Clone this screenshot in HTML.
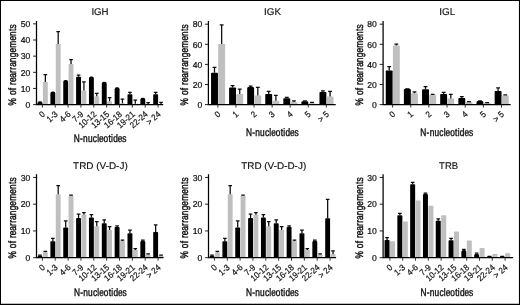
<!DOCTYPE html>
<html><head><meta charset="utf-8"><title>N-nucleotides</title>
<style>
html,body{margin:0;padding:0;background:#fff;}
body{width:520px;height:305px;overflow:hidden;}
svg{display:block;}
text{font-family:"Liberation Sans",sans-serif;fill:#111;stroke:#111;stroke-width:0.22px;text-rendering:geometricPrecision;}
</style></head><body>
<svg width="520" height="305" viewBox="0 0 520 305">
<defs><filter id="soft" x="0" y="0" width="520" height="305" filterUnits="userSpaceOnUse"><feGaussianBlur stdDeviation="0.5"/></filter></defs>
<rect x="0" y="0" width="520" height="305" fill="#fff"/>
<g filter="url(#soft)">
<g>
<text x="100" y="15.1" font-size="9.7" style="stroke-width:0.16px" text-anchor="middle" textLength="17.2" lengthAdjust="spacingAndGlyphs">IGH</text>
<path d="M37.55 104.6V103.37Q37.55 101.37 39.55 101.37H40.45Q42.45 101.37 42.45 103.37V104.6Z" fill="#000"/>
<path d="M42.9 104.6V82.59Q42.9 81.99 43.5 81.99H47.2Q47.8 81.99 47.8 82.59V104.6Z" fill="#bfbfbf"/>
<path d="M45.35 81.99V74.24M43.55 74.54H47.15" stroke="#0a0a0a" stroke-width="1.25" fill="none"/>
<path d="M50.4 104.6V93.52Q50.4 91.52 52.4 91.52H53.3Q55.3 91.52 55.3 93.52V104.6Z" fill="#000"/>
<path d="M55.75 104.6V44.48Q55.75 43.88 56.35 43.88H60.05Q60.65 43.88 60.65 44.48V104.6Z" fill="#bfbfbf"/>
<path d="M58.2 43.88V31.44M56.4 31.74H60" stroke="#0a0a0a" stroke-width="1.25" fill="none"/>
<path d="M63.25 104.6V82.05Q63.25 80.05 65.25 80.05H66.15Q68.15 80.05 68.15 82.05V104.6Z" fill="#000"/>
<path d="M68.6 104.6V64.66Q68.6 64.06 69.2 64.06H72.9Q73.5 64.06 73.5 64.66V104.6Z" fill="#bfbfbf"/>
<path d="M71.05 64.06V59.38M69.25 59.68H72.85" stroke="#0a0a0a" stroke-width="1.25" fill="none"/>
<path d="M76.1 104.6V77.62Q76.1 76.82 76.9 76.82H80.2Q81 76.82 81 77.62V104.6Z" fill="#000"/>
<path d="M78.55 76.82V74.72M76.75 75.02H80.35" stroke="#0a0a0a" stroke-width="1.25" fill="none"/>
<path d="M81.45 104.6V91.15Q81.45 90.55 82.05 90.55H85.75Q86.35 90.55 86.35 91.15V104.6Z" fill="#bfbfbf"/>
<path d="M83.9 90.55V81.51M82.1 81.81H85.7" stroke="#0a0a0a" stroke-width="1.25" fill="none"/>
<path d="M88.95 104.6V78.5Q88.95 76.5 90.95 76.5H91.85Q93.85 76.5 93.85 78.5V104.6Z" fill="#000"/>
<path d="M94.3 104.6V96.96Q94.3 96.36 94.9 96.36H98.6Q99.2 96.36 99.2 96.96V104.6Z" fill="#bfbfbf"/>
<path d="M96.75 96.36V92.97M94.95 93.27H98.55" stroke="#0a0a0a" stroke-width="1.25" fill="none"/>
<path d="M101.8 104.6V83.67Q101.8 81.67 103.8 81.67H104.7Q106.7 81.67 106.7 83.67V104.6Z" fill="#000"/>
<path d="M107.15 104.6V101.97Q107.15 101.37 107.75 101.37H111.45Q112.05 101.37 112.05 101.97V104.6Z" fill="#bfbfbf"/>
<path d="M109.6 101.37V97.33M107.8 97.63H111.4" stroke="#0a0a0a" stroke-width="1.25" fill="none"/>
<path d="M114.65 104.6V89.24Q114.65 87.24 116.65 87.24H117.55Q119.55 87.24 119.55 89.24V104.6Z" fill="#000"/>
<path d="M120 104.6V103.91Q120 103.31 120.6 103.31H124.3Q124.9 103.31 124.9 103.91V104.6Z" fill="#bfbfbf"/>
<path d="M122.45 103.31V98.79M120.65 99.09H124.25" stroke="#0a0a0a" stroke-width="1.25" fill="none"/>
<path d="M127.5 104.6V95.06Q127.5 94.26 128.3 94.26H131.6Q132.4 94.26 132.4 95.06V104.6Z" fill="#000"/>
<path d="M129.95 94.26V92.16M128.15 92.46H131.75" stroke="#0a0a0a" stroke-width="1.25" fill="none"/>
<path d="M132.85 104.6V104.36Q132.85 103.79 133.42 103.79H137.18Q137.75 103.79 137.75 104.36V104.6Z" fill="#bfbfbf"/>
<path d="M135.3 103.79V99.75M133.5 100.05H137.1" stroke="#0a0a0a" stroke-width="1.25" fill="none"/>
<path d="M140.35 104.6V99.66Q140.35 97.66 142.35 97.66H143.25Q145.25 97.66 145.25 99.66V104.6Z" fill="#000"/>
<path d="M145.7 104.6V104.41Q145.7 103.95 146.15 103.95H150.15Q150.6 103.95 150.6 104.41V104.6Z" fill="#bfbfbf"/>
<path d="M148.15 103.95V102.34M146.35 102.64H149.95" stroke="#0a0a0a" stroke-width="1.25" fill="none"/>
<path d="M153.2 104.6V95.06Q153.2 94.26 154 94.26H157.3Q158.1 94.26 158.1 95.06V104.6Z" fill="#000"/>
<path d="M155.65 94.26V92M153.85 92.3H157.45" stroke="#0a0a0a" stroke-width="1.25" fill="none"/>
<path d="M158.55 104.6V104.45Q158.55 104.12 158.89 104.12H163.11Q163.45 104.12 163.45 104.45V104.6Z" fill="#bfbfbf"/>
<path d="M161 104.12V102.02M159.2 102.32H162.8" stroke="#0a0a0a" stroke-width="1.25" fill="none"/>
<path d="M36.5 21V105.15M36 104.6H163.2" stroke="#000" stroke-width="1.25" fill="none"/>
<path d="M33.1 104.6H36.5" stroke="#222" stroke-width="1"/>
<text x="30.3" y="107.85" font-size="8.6" text-anchor="end">0</text>
<path d="M33.1 88.45H36.5" stroke="#222" stroke-width="1"/>
<text x="30.3" y="91.7" font-size="8.6" text-anchor="end">10</text>
<path d="M33.1 72.3H36.5" stroke="#222" stroke-width="1"/>
<text x="30.3" y="75.55" font-size="8.6" text-anchor="end">20</text>
<path d="M33.1 56.15H36.5" stroke="#222" stroke-width="1"/>
<text x="30.3" y="59.4" font-size="8.6" text-anchor="end">30</text>
<path d="M33.1 40H36.5" stroke="#222" stroke-width="1"/>
<text x="30.3" y="43.25" font-size="8.6" text-anchor="end">40</text>
<path d="M33.1 23.85H36.5" stroke="#222" stroke-width="1"/>
<text x="30.3" y="27.1" font-size="8.6" text-anchor="end">50</text>
<path d="M42.4 104.6V107.6" stroke="#222" stroke-width="0.9"/>
<text transform="translate(43.6,112.9) rotate(-41.5) scale(0.92,1)" font-size="8.7" style="stroke-width:0.2px" text-anchor="end" dominant-baseline="central">0</text>
<path d="M55.25 104.6V107.6" stroke="#222" stroke-width="0.9"/>
<text transform="translate(56.45,112.9) rotate(-41.5) scale(0.92,1)" font-size="8.7" style="stroke-width:0.2px" text-anchor="end" dominant-baseline="central">1-3</text>
<path d="M68.1 104.6V107.6" stroke="#222" stroke-width="0.9"/>
<text transform="translate(69.3,112.9) rotate(-41.5) scale(0.92,1)" font-size="8.7" style="stroke-width:0.2px" text-anchor="end" dominant-baseline="central">4-6</text>
<path d="M80.95 104.6V107.6" stroke="#222" stroke-width="0.9"/>
<text transform="translate(82.15,112.9) rotate(-41.5) scale(0.92,1)" font-size="8.7" style="stroke-width:0.2px" text-anchor="end" dominant-baseline="central">7-9</text>
<path d="M93.8 104.6V107.6" stroke="#222" stroke-width="0.9"/>
<text transform="translate(95,112.9) rotate(-41.5) scale(0.92,1)" font-size="8.7" style="stroke-width:0.2px" text-anchor="end" dominant-baseline="central">10-12</text>
<path d="M106.65 104.6V107.6" stroke="#222" stroke-width="0.9"/>
<text transform="translate(107.85,112.9) rotate(-41.5) scale(0.92,1)" font-size="8.7" style="stroke-width:0.2px" text-anchor="end" dominant-baseline="central">13-15</text>
<path d="M119.5 104.6V107.6" stroke="#222" stroke-width="0.9"/>
<text transform="translate(120.7,112.9) rotate(-41.5) scale(0.92,1)" font-size="8.7" style="stroke-width:0.2px" text-anchor="end" dominant-baseline="central">16-18</text>
<path d="M132.35 104.6V107.6" stroke="#222" stroke-width="0.9"/>
<text transform="translate(133.55,112.9) rotate(-41.5) scale(0.92,1)" font-size="8.7" style="stroke-width:0.2px" text-anchor="end" dominant-baseline="central">19-21</text>
<path d="M145.2 104.6V107.6" stroke="#222" stroke-width="0.9"/>
<text transform="translate(146.4,112.9) rotate(-41.5) scale(0.92,1)" font-size="8.7" style="stroke-width:0.2px" text-anchor="end" dominant-baseline="central">22-24</text>
<path d="M158.05 104.6V107.6" stroke="#222" stroke-width="0.9"/>
<text transform="translate(159.25,112.9) rotate(-41.5) scale(0.92,1)" font-size="8.7" style="stroke-width:0.2px" text-anchor="end" dominant-baseline="central">&gt; 24</text>
<text transform="translate(16,65) rotate(-90) scale(0.765,1)" font-size="10.9" x="-52.96 -42.68 -39.38 -32.87 -29.49 -26.04 -22.27 -16.57 -10.37 -6.1 -2.33 3.73 10.15 16.21 22.55 31.9 37.96 44.47 47.89" y="0" style="stroke-width:0.42px">% of rearrangements</text>
<text transform="translate(100.2,142.4) scale(0.765,1)" font-size="10.9" x="-34.56 -26.46 -22.39 -16.05 -9.76 -4.03 -1.62 4.36 10.81 14.28 17.04 23.03 28.96" y="0" style="stroke-width:0.42px">N-nucleotides</text>
</g>
<g>
<text x="272.5" y="15.1" font-size="9.7" style="stroke-width:0.16px" text-anchor="middle" textLength="17" lengthAdjust="spacingAndGlyphs">IGK</text>
<path d="M211.05 104.6V73.53Q211.05 72.73 211.85 72.73H217.15Q217.95 72.73 217.95 73.53V104.6Z" fill="#000"/>
<path d="M214.5 72.73V67.1M212.6 67.4H216.4" stroke="#0a0a0a" stroke-width="1.25" fill="none"/>
<path d="M218.2 104.6V44.6Q218.2 44 218.8 44H224.5Q225.1 44 225.1 44.6V104.6Z" fill="#bfbfbf"/>
<path d="M221.65 44V24.5M219.75 24.8H223.55" stroke="#0a0a0a" stroke-width="1.25" fill="none"/>
<path d="M229.12 104.6V88.3Q229.12 87.5 229.92 87.5H235.22Q236.02 87.5 236.02 88.3V104.6Z" fill="#000"/>
<path d="M232.57 87.5V85.44M230.67 85.74H234.47" stroke="#0a0a0a" stroke-width="1.25" fill="none"/>
<path d="M236.27 104.6V94.54Q236.27 93.94 236.87 93.94H242.57Q243.17 93.94 243.17 94.54V104.6Z" fill="#bfbfbf"/>
<path d="M239.72 93.94V88.72M237.82 89.02H241.62" stroke="#0a0a0a" stroke-width="1.25" fill="none"/>
<path d="M247.19 104.6V88.44Q247.19 87.04 248.59 87.04H252.69Q254.09 87.04 254.09 88.44V104.6Z" fill="#000"/>
<path d="M250.64 87.04V85.93M248.74 86.23H252.54" stroke="#0a0a0a" stroke-width="1.25" fill="none"/>
<path d="M254.34 104.6V96.17Q254.34 95.57 254.94 95.57H260.64Q261.24 95.57 261.24 96.17V104.6Z" fill="#bfbfbf"/>
<path d="M257.79 95.57V87.12M255.89 87.42H259.69" stroke="#0a0a0a" stroke-width="1.25" fill="none"/>
<path d="M265.26 104.6V94.74Q265.26 93.94 266.06 93.94H271.36Q272.16 93.94 272.16 94.74V104.6Z" fill="#000"/>
<path d="M268.71 93.94V91.03M266.81 91.33H270.61" stroke="#0a0a0a" stroke-width="1.25" fill="none"/>
<path d="M272.41 104.6V101.44Q272.41 100.84 273.01 100.84H278.71Q279.31 100.84 279.31 101.44V104.6Z" fill="#bfbfbf"/>
<path d="M275.86 100.84V95.12M273.96 95.42H277.76" stroke="#0a0a0a" stroke-width="1.25" fill="none"/>
<path d="M283.33 104.6V99.01Q283.33 98.21 284.13 98.21H289.43Q290.23 98.21 290.23 99.01V104.6Z" fill="#000"/>
<path d="M286.78 98.21V97M284.88 97.3H288.68" stroke="#0a0a0a" stroke-width="1.25" fill="none"/>
<path d="M290.48 104.6V102.66Q290.48 102.06 291.08 102.06H296.78Q297.38 102.06 297.38 102.66V104.6Z" fill="#bfbfbf"/>
<path d="M293.93 102.06V100.55M292.03 100.85H295.83" stroke="#0a0a0a" stroke-width="1.25" fill="none"/>
<path d="M301.4 104.6V102.55Q301.4 101.15 302.8 101.15H306.9Q308.3 101.15 308.3 102.55V104.6Z" fill="#000"/>
<path d="M304.85 101.15V100.55M302.95 100.85H306.75" stroke="#0a0a0a" stroke-width="1.25" fill="none"/>
<path d="M308.55 104.6V103.78Q308.55 103.18 309.15 103.18H314.85Q315.45 103.18 315.45 103.78V104.6Z" fill="#bfbfbf"/>
<path d="M312 103.18V102.07M310.1 102.37H313.9" stroke="#0a0a0a" stroke-width="1.25" fill="none"/>
<path d="M319.47 104.6V92.81Q319.47 92.01 320.27 92.01H325.57Q326.37 92.01 326.37 92.81V104.6Z" fill="#000"/>
<path d="M322.92 92.01V90.61M321.02 90.91H324.82" stroke="#0a0a0a" stroke-width="1.25" fill="none"/>
<path d="M326.62 104.6V96.98Q326.62 96.38 327.22 96.38H332.92Q333.52 96.38 333.52 96.98V104.6Z" fill="#bfbfbf"/>
<path d="M330.07 96.38V91.15M328.17 91.45H331.97" stroke="#0a0a0a" stroke-width="1.25" fill="none"/>
<path d="M208.4 21V105.15M207.9 104.6H335.7" stroke="#000" stroke-width="1.25" fill="none"/>
<path d="M205 104.6H208.4" stroke="#222" stroke-width="1"/>
<text x="202.2" y="107.85" font-size="8.6" text-anchor="end">0</text>
<path d="M205 84.5H208.4" stroke="#222" stroke-width="1"/>
<text x="202.2" y="87.75" font-size="8.6" text-anchor="end">20</text>
<path d="M205 64.4H208.4" stroke="#222" stroke-width="1"/>
<text x="202.2" y="67.65" font-size="8.6" text-anchor="end">40</text>
<path d="M205 44.3H208.4" stroke="#222" stroke-width="1"/>
<text x="202.2" y="47.55" font-size="8.6" text-anchor="end">60</text>
<path d="M205 24.2H208.4" stroke="#222" stroke-width="1"/>
<text x="202.2" y="27.45" font-size="8.6" text-anchor="end">80</text>
<path d="M217.9 104.6V107.6" stroke="#222" stroke-width="0.9"/>
<text transform="translate(219.1,112.9) rotate(-41.5) scale(0.92,1)" font-size="8.7" style="stroke-width:0.2px" text-anchor="end" dominant-baseline="central">0</text>
<path d="M235.97 104.6V107.6" stroke="#222" stroke-width="0.9"/>
<text transform="translate(237.17,112.9) rotate(-41.5) scale(0.92,1)" font-size="8.7" style="stroke-width:0.2px" text-anchor="end" dominant-baseline="central">1</text>
<path d="M254.04 104.6V107.6" stroke="#222" stroke-width="0.9"/>
<text transform="translate(255.24,112.9) rotate(-41.5) scale(0.92,1)" font-size="8.7" style="stroke-width:0.2px" text-anchor="end" dominant-baseline="central">2</text>
<path d="M272.11 104.6V107.6" stroke="#222" stroke-width="0.9"/>
<text transform="translate(273.31,112.9) rotate(-41.5) scale(0.92,1)" font-size="8.7" style="stroke-width:0.2px" text-anchor="end" dominant-baseline="central">3</text>
<path d="M290.18 104.6V107.6" stroke="#222" stroke-width="0.9"/>
<text transform="translate(291.38,112.9) rotate(-41.5) scale(0.92,1)" font-size="8.7" style="stroke-width:0.2px" text-anchor="end" dominant-baseline="central">4</text>
<path d="M308.25 104.6V107.6" stroke="#222" stroke-width="0.9"/>
<text transform="translate(309.45,112.9) rotate(-41.5) scale(0.92,1)" font-size="8.7" style="stroke-width:0.2px" text-anchor="end" dominant-baseline="central">5</text>
<path d="M326.32 104.6V107.6" stroke="#222" stroke-width="0.9"/>
<text transform="translate(327.52,112.9) rotate(-41.5) scale(0.92,1)" font-size="8.7" style="stroke-width:0.2px" text-anchor="end" dominant-baseline="central">&gt; 5</text>
<text transform="translate(187.9,65) rotate(-90) scale(0.765,1)" font-size="10.9" x="-52.96 -42.68 -39.38 -32.87 -29.49 -26.04 -22.27 -16.57 -10.37 -6.1 -2.33 3.73 10.15 16.21 22.55 31.9 37.96 44.47 47.89" y="0" style="stroke-width:0.42px">% of rearrangements</text>
<text transform="translate(272.4,135.5) scale(0.765,1)" font-size="10.9" x="-34.56 -26.46 -22.39 -16.05 -9.76 -4.03 -1.62 4.36 10.81 14.28 17.04 23.03 28.96" y="0" style="stroke-width:0.42px">N-nucleotides</text>
</g>
<g>
<text x="447.3" y="15.1" font-size="9.7" style="stroke-width:0.16px" text-anchor="middle" textLength="16" lengthAdjust="spacingAndGlyphs">IGL</text>
<path d="M385.75 104.6V71.29Q385.75 70.49 386.55 70.49H391.85Q392.65 70.49 392.65 71.29V104.6Z" fill="#000"/>
<path d="M389.2 70.49V66.37M387.3 66.67H391.1" stroke="#0a0a0a" stroke-width="1.25" fill="none"/>
<path d="M392.9 104.6V46.12Q392.9 45.52 393.5 45.52H399.2Q399.8 45.52 399.8 46.12V104.6Z" fill="#bfbfbf"/>
<path d="M396.35 45.52V43.72M394.45 44.02H398.25" stroke="#0a0a0a" stroke-width="1.25" fill="none"/>
<path d="M403.9 104.6V90.27Q403.9 88.87 405.3 88.87H409.4Q410.8 88.87 410.8 90.27V104.6Z" fill="#000"/>
<path d="M407.35 88.87V88.46M405.45 88.76H409.25" stroke="#0a0a0a" stroke-width="1.25" fill="none"/>
<path d="M411.05 104.6V93.83Q411.05 93.23 411.65 93.23H417.35Q417.95 93.23 417.95 93.83V104.6Z" fill="#bfbfbf"/>
<path d="M414.5 93.23V91.62M412.6 91.92H416.4" stroke="#0a0a0a" stroke-width="1.25" fill="none"/>
<path d="M422.05 104.6V90.17Q422.05 89.37 422.85 89.37H428.15Q428.95 89.37 428.95 90.17V104.6Z" fill="#000"/>
<path d="M425.5 89.37V86.36M423.6 86.66H427.4" stroke="#0a0a0a" stroke-width="1.25" fill="none"/>
<path d="M429.2 104.6V95.66Q429.2 95.06 429.8 95.06H435.5Q436.1 95.06 436.1 95.66V104.6Z" fill="#bfbfbf"/>
<path d="M432.65 95.06V93.95M430.75 94.25H434.55" stroke="#0a0a0a" stroke-width="1.25" fill="none"/>
<path d="M440.2 104.6V94.74Q440.2 93.94 441 93.94H446.3Q447.1 93.94 447.1 94.74V104.6Z" fill="#000"/>
<path d="M443.65 93.94V92.13M441.75 92.43H445.55" stroke="#0a0a0a" stroke-width="1.25" fill="none"/>
<path d="M447.35 104.6V99.11Q447.35 98.51 447.95 98.51H453.65Q454.25 98.51 454.25 99.11V104.6Z" fill="#bfbfbf"/>
<path d="M450.8 98.51V93.99M448.9 94.29H452.7" stroke="#0a0a0a" stroke-width="1.25" fill="none"/>
<path d="M458.35 104.6V98.9Q458.35 98.1 459.15 98.1H464.45Q465.25 98.1 465.25 98.9V104.6Z" fill="#000"/>
<path d="M461.8 98.1V96.29M459.9 96.59H463.7" stroke="#0a0a0a" stroke-width="1.25" fill="none"/>
<path d="M465.5 104.6V102.56Q465.5 101.96 466.1 101.96H471.8Q472.4 101.96 472.4 102.56V104.6Z" fill="#bfbfbf"/>
<path d="M468.95 101.96V101.36M467.05 101.66H470.85" stroke="#0a0a0a" stroke-width="1.25" fill="none"/>
<path d="M476.5 104.6V102.45Q476.5 101.05 477.9 101.05H482Q483.4 101.05 483.4 102.45V104.6Z" fill="#000"/>
<path d="M479.95 101.05V100.54M478.05 100.84H481.85" stroke="#0a0a0a" stroke-width="1.25" fill="none"/>
<path d="M483.65 104.6V103.47Q483.65 102.87 484.25 102.87H489.95Q490.55 102.87 490.55 103.47V104.6Z" fill="#bfbfbf"/>
<path d="M487.1 102.87V102.37M485.2 102.67H489" stroke="#0a0a0a" stroke-width="1.25" fill="none"/>
<path d="M494.65 104.6V91.9Q494.65 91.1 495.45 91.1H500.75Q501.55 91.1 501.55 91.9V104.6Z" fill="#000"/>
<path d="M498.1 91.1V87.68M496.2 87.98H500" stroke="#0a0a0a" stroke-width="1.25" fill="none"/>
<path d="M501.8 104.6V96.06Q501.8 95.46 502.4 95.46H508.1Q508.7 95.46 508.7 96.06V104.6Z" fill="#bfbfbf"/>
<path d="M505.25 95.46V94.46M503.35 94.76H507.15" stroke="#0a0a0a" stroke-width="1.25" fill="none"/>
<path d="M383.1 21V105.15M382.6 104.6H510.7" stroke="#000" stroke-width="1.25" fill="none"/>
<path d="M379.7 104.6H383.1" stroke="#222" stroke-width="1"/>
<text x="376.9" y="107.85" font-size="8.6" text-anchor="end">0</text>
<path d="M379.7 84.5H383.1" stroke="#222" stroke-width="1"/>
<text x="376.9" y="87.75" font-size="8.6" text-anchor="end">20</text>
<path d="M379.7 64.4H383.1" stroke="#222" stroke-width="1"/>
<text x="376.9" y="67.65" font-size="8.6" text-anchor="end">40</text>
<path d="M379.7 44.3H383.1" stroke="#222" stroke-width="1"/>
<text x="376.9" y="47.55" font-size="8.6" text-anchor="end">60</text>
<path d="M379.7 24.2H383.1" stroke="#222" stroke-width="1"/>
<text x="376.9" y="27.45" font-size="8.6" text-anchor="end">80</text>
<path d="M392.6 104.6V107.6" stroke="#222" stroke-width="0.9"/>
<text transform="translate(393.8,112.9) rotate(-41.5) scale(0.92,1)" font-size="8.7" style="stroke-width:0.2px" text-anchor="end" dominant-baseline="central">0</text>
<path d="M410.75 104.6V107.6" stroke="#222" stroke-width="0.9"/>
<text transform="translate(411.95,112.9) rotate(-41.5) scale(0.92,1)" font-size="8.7" style="stroke-width:0.2px" text-anchor="end" dominant-baseline="central">1</text>
<path d="M428.9 104.6V107.6" stroke="#222" stroke-width="0.9"/>
<text transform="translate(430.1,112.9) rotate(-41.5) scale(0.92,1)" font-size="8.7" style="stroke-width:0.2px" text-anchor="end" dominant-baseline="central">2</text>
<path d="M447.05 104.6V107.6" stroke="#222" stroke-width="0.9"/>
<text transform="translate(448.25,112.9) rotate(-41.5) scale(0.92,1)" font-size="8.7" style="stroke-width:0.2px" text-anchor="end" dominant-baseline="central">3</text>
<path d="M465.2 104.6V107.6" stroke="#222" stroke-width="0.9"/>
<text transform="translate(466.4,112.9) rotate(-41.5) scale(0.92,1)" font-size="8.7" style="stroke-width:0.2px" text-anchor="end" dominant-baseline="central">4</text>
<path d="M483.35 104.6V107.6" stroke="#222" stroke-width="0.9"/>
<text transform="translate(484.55,112.9) rotate(-41.5) scale(0.92,1)" font-size="8.7" style="stroke-width:0.2px" text-anchor="end" dominant-baseline="central">5</text>
<path d="M501.5 104.6V107.6" stroke="#222" stroke-width="0.9"/>
<text transform="translate(502.7,112.9) rotate(-41.5) scale(0.92,1)" font-size="8.7" style="stroke-width:0.2px" text-anchor="end" dominant-baseline="central">&gt; 5</text>
<text transform="translate(362.6,65) rotate(-90) scale(0.765,1)" font-size="10.9" x="-52.96 -42.68 -39.38 -32.87 -29.49 -26.04 -22.27 -16.57 -10.37 -6.1 -2.33 3.73 10.15 16.21 22.55 31.9 37.96 44.47 47.89" y="0" style="stroke-width:0.42px">% of rearrangements</text>
<text transform="translate(446.8,135.5) scale(0.765,1)" font-size="10.9" x="-34.56 -26.46 -22.39 -16.05 -9.76 -4.03 -1.62 4.36 10.81 14.28 17.04 23.03 28.96" y="0" style="stroke-width:0.42px">N-nucleotides</text>
</g>
<g>
<text x="100.4" y="168.8" font-size="9.7" style="stroke-width:0.16px" text-anchor="middle" textLength="54.6" lengthAdjust="spacingAndGlyphs">TRD (V-D-J)</text>
<path d="M37.55 257.7V257.06Q37.55 255.56 39.05 255.56H40.95Q42.45 255.56 42.45 257.06V257.7Z" fill="#000"/>
<path d="M40 255.56V254.76M38.2 255.06H41.8" stroke="#0a0a0a" stroke-width="1.25" fill="none"/>
<path d="M42.9 257.7V252.95Q42.9 252.35 43.5 252.35H47.2Q47.8 252.35 47.8 252.95V257.7Z" fill="#bfbfbf"/>
<path d="M45.35 252.35V251.01M43.55 251.31H47.15" stroke="#0a0a0a" stroke-width="1.25" fill="none"/>
<path d="M50.4 257.7V242.05Q50.4 241.25 51.2 241.25H54.5Q55.3 241.25 55.3 242.05V257.7Z" fill="#000"/>
<path d="M52.85 241.25V238.04M51.05 238.34H54.65" stroke="#0a0a0a" stroke-width="1.25" fill="none"/>
<path d="M55.75 257.7V194.9Q55.75 194.3 56.35 194.3H60.05Q60.65 194.3 60.65 194.9V257.7Z" fill="#bfbfbf"/>
<path d="M58.2 194.3V185.21M56.4 185.51H60" stroke="#0a0a0a" stroke-width="1.25" fill="none"/>
<path d="M63.25 257.7V228.27Q63.25 227.47 64.05 227.47H67.35Q68.15 227.47 68.15 228.27V257.7Z" fill="#000"/>
<path d="M65.7 227.47V220.52M63.9 220.82H67.5" stroke="#0a0a0a" stroke-width="1.25" fill="none"/>
<path d="M68.6 257.7V196.24Q68.6 195.64 69.2 195.64H72.9Q73.5 195.64 73.5 196.24V257.7Z" fill="#bfbfbf"/>
<path d="M71.05 195.64V194.84M69.25 195.14H72.85" stroke="#0a0a0a" stroke-width="1.25" fill="none"/>
<path d="M76.1 257.7V218.91Q76.1 218.11 76.9 218.11H80.2Q81 218.11 81 218.91V257.7Z" fill="#000"/>
<path d="M78.55 218.11V213.83M76.75 214.13H80.35" stroke="#0a0a0a" stroke-width="1.25" fill="none"/>
<path d="M81.45 257.7V215.37Q81.45 214.77 82.05 214.77H85.75Q86.35 214.77 86.35 215.37V257.7Z" fill="#bfbfbf"/>
<path d="M83.9 214.77V212.36M82.1 212.66H85.7" stroke="#0a0a0a" stroke-width="1.25" fill="none"/>
<path d="M88.95 257.7V218.38Q88.95 217.57 89.75 217.57H93.05Q93.85 217.57 93.85 218.38V257.7Z" fill="#000"/>
<path d="M91.4 217.57V214.36M89.6 214.66H93.2" stroke="#0a0a0a" stroke-width="1.25" fill="none"/>
<path d="M94.3 257.7V226.87Q94.3 226.27 94.9 226.27H98.6Q99.2 226.27 99.2 226.87V257.7Z" fill="#bfbfbf"/>
<path d="M96.75 226.27V221.32M94.95 221.62H98.55" stroke="#0a0a0a" stroke-width="1.25" fill="none"/>
<path d="M101.8 257.7V223.99Q101.8 223.19 102.6 223.19H105.9Q106.7 223.19 106.7 223.99V257.7Z" fill="#000"/>
<path d="M104.25 223.19V219.45M102.45 219.75H106.05" stroke="#0a0a0a" stroke-width="1.25" fill="none"/>
<path d="M107.15 257.7V230.61Q107.15 230.01 107.75 230.01H111.45Q112.05 230.01 112.05 230.61V257.7Z" fill="#bfbfbf"/>
<path d="M109.6 230.01V226.27M107.8 226.57H111.4" stroke="#0a0a0a" stroke-width="1.25" fill="none"/>
<path d="M114.65 257.7V227.74Q114.65 226.94 115.45 226.94H118.75Q119.55 226.94 119.55 227.74V257.7Z" fill="#000"/>
<path d="M117.1 226.94V225.6M115.3 225.9H118.9" stroke="#0a0a0a" stroke-width="1.25" fill="none"/>
<path d="M120 257.7V241.58Q120 240.98 120.6 240.98H124.3Q124.9 240.98 124.9 241.58V257.7Z" fill="#bfbfbf"/>
<path d="M122.45 240.98V239.78M120.65 240.08H124.25" stroke="#0a0a0a" stroke-width="1.25" fill="none"/>
<path d="M127.5 257.7V234.16Q127.5 233.36 128.3 233.36H131.6Q132.4 233.36 132.4 234.16V257.7Z" fill="#000"/>
<path d="M129.95 233.36V229.88M128.15 230.18H131.75" stroke="#0a0a0a" stroke-width="1.25" fill="none"/>
<path d="M132.85 257.7V250.54Q132.85 249.94 133.45 249.94H137.15Q137.75 249.94 137.75 250.54V257.7Z" fill="#bfbfbf"/>
<path d="M135.3 249.94V248.34M133.5 248.64H137.1" stroke="#0a0a0a" stroke-width="1.25" fill="none"/>
<path d="M140.35 257.7V242.58Q140.35 240.58 142.35 240.58H143.25Q145.25 240.58 145.25 242.58V257.7Z" fill="#000"/>
<path d="M142.8 240.58V239.78M141 240.08H144.6" stroke="#0a0a0a" stroke-width="1.25" fill="none"/>
<path d="M145.7 257.7V255.36Q145.7 254.76 146.3 254.76H150Q150.6 254.76 150.6 255.36V257.7Z" fill="#bfbfbf"/>
<path d="M148.15 254.76V253.69M146.35 253.99H149.95" stroke="#0a0a0a" stroke-width="1.25" fill="none"/>
<path d="M153.2 257.7V232.82Q153.2 232.02 154 232.02H157.3Q158.1 232.02 158.1 232.82V257.7Z" fill="#000"/>
<path d="M155.65 232.02V224.53M153.85 224.83H157.45" stroke="#0a0a0a" stroke-width="1.25" fill="none"/>
<path d="M158.55 257.7V256.16Q158.55 255.56 159.15 255.56H162.85Q163.45 255.56 163.45 256.16V257.7Z" fill="#bfbfbf"/>
<path d="M161 255.56V254.76M159.2 255.06H162.8" stroke="#0a0a0a" stroke-width="1.25" fill="none"/>
<path d="M36.5 174.3V258.25M36 257.7H163.5" stroke="#000" stroke-width="1.25" fill="none"/>
<path d="M33.1 257.7H36.5" stroke="#222" stroke-width="1"/>
<text x="30.3" y="260.95" font-size="8.6" text-anchor="end">0</text>
<path d="M33.1 230.95H36.5" stroke="#222" stroke-width="1"/>
<text x="30.3" y="234.2" font-size="8.6" text-anchor="end">10</text>
<path d="M33.1 204.2H36.5" stroke="#222" stroke-width="1"/>
<text x="30.3" y="207.45" font-size="8.6" text-anchor="end">20</text>
<path d="M33.1 177.45H36.5" stroke="#222" stroke-width="1"/>
<text x="30.3" y="180.7" font-size="8.6" text-anchor="end">30</text>
<path d="M42.4 257.7V260.7" stroke="#222" stroke-width="0.9"/>
<text transform="translate(43.6,266) rotate(-41.5) scale(0.92,1)" font-size="8.7" style="stroke-width:0.2px" text-anchor="end" dominant-baseline="central">0</text>
<path d="M55.25 257.7V260.7" stroke="#222" stroke-width="0.9"/>
<text transform="translate(56.45,266) rotate(-41.5) scale(0.92,1)" font-size="8.7" style="stroke-width:0.2px" text-anchor="end" dominant-baseline="central">1-3</text>
<path d="M68.1 257.7V260.7" stroke="#222" stroke-width="0.9"/>
<text transform="translate(69.3,266) rotate(-41.5) scale(0.92,1)" font-size="8.7" style="stroke-width:0.2px" text-anchor="end" dominant-baseline="central">4-6</text>
<path d="M80.95 257.7V260.7" stroke="#222" stroke-width="0.9"/>
<text transform="translate(82.15,266) rotate(-41.5) scale(0.92,1)" font-size="8.7" style="stroke-width:0.2px" text-anchor="end" dominant-baseline="central">7-9</text>
<path d="M93.8 257.7V260.7" stroke="#222" stroke-width="0.9"/>
<text transform="translate(95,266) rotate(-41.5) scale(0.92,1)" font-size="8.7" style="stroke-width:0.2px" text-anchor="end" dominant-baseline="central">10-12</text>
<path d="M106.65 257.7V260.7" stroke="#222" stroke-width="0.9"/>
<text transform="translate(107.85,266) rotate(-41.5) scale(0.92,1)" font-size="8.7" style="stroke-width:0.2px" text-anchor="end" dominant-baseline="central">13-15</text>
<path d="M119.5 257.7V260.7" stroke="#222" stroke-width="0.9"/>
<text transform="translate(120.7,266) rotate(-41.5) scale(0.92,1)" font-size="8.7" style="stroke-width:0.2px" text-anchor="end" dominant-baseline="central">16-18</text>
<path d="M132.35 257.7V260.7" stroke="#222" stroke-width="0.9"/>
<text transform="translate(133.55,266) rotate(-41.5) scale(0.92,1)" font-size="8.7" style="stroke-width:0.2px" text-anchor="end" dominant-baseline="central">19-21</text>
<path d="M145.2 257.7V260.7" stroke="#222" stroke-width="0.9"/>
<text transform="translate(146.4,266) rotate(-41.5) scale(0.92,1)" font-size="8.7" style="stroke-width:0.2px" text-anchor="end" dominant-baseline="central">22-24</text>
<path d="M158.05 257.7V260.7" stroke="#222" stroke-width="0.9"/>
<text transform="translate(159.25,266) rotate(-41.5) scale(0.92,1)" font-size="8.7" style="stroke-width:0.2px" text-anchor="end" dominant-baseline="central">&gt; 24</text>
<text transform="translate(16,218.1) rotate(-90) scale(0.765,1)" font-size="10.9" x="-52.96 -42.68 -39.38 -32.87 -29.49 -26.04 -22.27 -16.57 -10.37 -6.1 -2.33 3.73 10.15 16.21 22.55 31.9 37.96 44.47 47.89" y="0" style="stroke-width:0.42px">% of rearrangements</text>
<text transform="translate(100.4,295.5) scale(0.765,1)" font-size="10.9" x="-34.56 -26.46 -22.39 -16.05 -9.76 -4.03 -1.62 4.36 10.81 14.28 17.04 23.03 28.96" y="0" style="stroke-width:0.42px">N-nucleotides</text>
</g>
<g>
<text x="273.7" y="168.8" font-size="9.7" style="stroke-width:0.16px" text-anchor="middle" textLength="65" lengthAdjust="spacingAndGlyphs">TRD (V-D-D-J)</text>
<path d="M209.55 257.7V257.06Q209.55 255.56 211.05 255.56H212.95Q214.45 255.56 214.45 257.06V257.7Z" fill="#000"/>
<path d="M212 255.56V254.76M210.2 255.06H213.8" stroke="#0a0a0a" stroke-width="1.25" fill="none"/>
<path d="M214.9 257.7V252.95Q214.9 252.35 215.5 252.35H219.2Q219.8 252.35 219.8 252.95V257.7Z" fill="#bfbfbf"/>
<path d="M217.35 252.35V251.01M215.55 251.31H219.15" stroke="#0a0a0a" stroke-width="1.25" fill="none"/>
<path d="M222.4 257.7V242.05Q222.4 241.25 223.2 241.25H226.5Q227.3 241.25 227.3 242.05V257.7Z" fill="#000"/>
<path d="M224.85 241.25V238.04M223.05 238.34H226.65" stroke="#0a0a0a" stroke-width="1.25" fill="none"/>
<path d="M227.75 257.7V194.9Q227.75 194.3 228.35 194.3H232.05Q232.65 194.3 232.65 194.9V257.7Z" fill="#bfbfbf"/>
<path d="M230.2 194.3V185.21M228.4 185.51H232" stroke="#0a0a0a" stroke-width="1.25" fill="none"/>
<path d="M235.25 257.7V228.27Q235.25 227.47 236.05 227.47H239.35Q240.15 227.47 240.15 228.27V257.7Z" fill="#000"/>
<path d="M237.7 227.47V220.52M235.9 220.82H239.5" stroke="#0a0a0a" stroke-width="1.25" fill="none"/>
<path d="M240.6 257.7V196.24Q240.6 195.64 241.2 195.64H244.9Q245.5 195.64 245.5 196.24V257.7Z" fill="#bfbfbf"/>
<path d="M243.05 195.64V194.84M241.25 195.14H244.85" stroke="#0a0a0a" stroke-width="1.25" fill="none"/>
<path d="M248.1 257.7V218.91Q248.1 218.11 248.9 218.11H252.2Q253 218.11 253 218.91V257.7Z" fill="#000"/>
<path d="M250.55 218.11V213.83M248.75 214.13H252.35" stroke="#0a0a0a" stroke-width="1.25" fill="none"/>
<path d="M253.45 257.7V215.37Q253.45 214.77 254.05 214.77H257.75Q258.35 214.77 258.35 215.37V257.7Z" fill="#bfbfbf"/>
<path d="M255.9 214.77V212.36M254.1 212.66H257.7" stroke="#0a0a0a" stroke-width="1.25" fill="none"/>
<path d="M260.95 257.7V218.38Q260.95 217.57 261.75 217.57H265.05Q265.85 217.57 265.85 218.38V257.7Z" fill="#000"/>
<path d="M263.4 217.57V214.36M261.6 214.66H265.2" stroke="#0a0a0a" stroke-width="1.25" fill="none"/>
<path d="M266.3 257.7V226.87Q266.3 226.27 266.9 226.27H270.6Q271.2 226.27 271.2 226.87V257.7Z" fill="#bfbfbf"/>
<path d="M268.75 226.27V221.32M266.95 221.62H270.55" stroke="#0a0a0a" stroke-width="1.25" fill="none"/>
<path d="M273.8 257.7V223.99Q273.8 223.19 274.6 223.19H277.9Q278.7 223.19 278.7 223.99V257.7Z" fill="#000"/>
<path d="M276.25 223.19V219.45M274.45 219.75H278.05" stroke="#0a0a0a" stroke-width="1.25" fill="none"/>
<path d="M279.15 257.7V230.61Q279.15 230.01 279.75 230.01H283.45Q284.05 230.01 284.05 230.61V257.7Z" fill="#bfbfbf"/>
<path d="M281.6 230.01V226.27M279.8 226.57H283.4" stroke="#0a0a0a" stroke-width="1.25" fill="none"/>
<path d="M286.65 257.7V227.74Q286.65 226.94 287.45 226.94H290.75Q291.55 226.94 291.55 227.74V257.7Z" fill="#000"/>
<path d="M289.1 226.94V225.6M287.3 225.9H290.9" stroke="#0a0a0a" stroke-width="1.25" fill="none"/>
<path d="M292 257.7V241.58Q292 240.98 292.6 240.98H296.3Q296.9 240.98 296.9 241.58V257.7Z" fill="#bfbfbf"/>
<path d="M294.45 240.98V239.78M292.65 240.08H296.25" stroke="#0a0a0a" stroke-width="1.25" fill="none"/>
<path d="M299.5 257.7V234.16Q299.5 233.36 300.3 233.36H303.6Q304.4 233.36 304.4 234.16V257.7Z" fill="#000"/>
<path d="M301.95 233.36V229.88M300.15 230.18H303.75" stroke="#0a0a0a" stroke-width="1.25" fill="none"/>
<path d="M304.85 257.7V250.54Q304.85 249.94 305.45 249.94H309.15Q309.75 249.94 309.75 250.54V257.7Z" fill="#bfbfbf"/>
<path d="M307.3 249.94V248.34M305.5 248.64H309.1" stroke="#0a0a0a" stroke-width="1.25" fill="none"/>
<path d="M312.35 257.7V242.58Q312.35 240.58 314.35 240.58H315.25Q317.25 240.58 317.25 242.58V257.7Z" fill="#000"/>
<path d="M314.8 240.58V239.78M313 240.08H316.6" stroke="#0a0a0a" stroke-width="1.25" fill="none"/>
<path d="M317.7 257.7V255.36Q317.7 254.76 318.3 254.76H322Q322.6 254.76 322.6 255.36V257.7Z" fill="#bfbfbf"/>
<path d="M320.15 254.76V253.69M318.35 253.99H321.95" stroke="#0a0a0a" stroke-width="1.25" fill="none"/>
<path d="M325.2 257.7V219.04Q325.2 218.24 326 218.24H329.3Q330.1 218.24 330.1 219.04V257.7Z" fill="#000"/>
<path d="M327.65 218.24V199.12M325.85 199.42H329.45" stroke="#0a0a0a" stroke-width="1.25" fill="none"/>
<path d="M330.55 257.7V254.69Q330.55 254.09 331.15 254.09H334.85Q335.45 254.09 335.45 254.69V257.7Z" fill="#bfbfbf"/>
<path d="M333 254.09V250.48M331.2 250.78H334.8" stroke="#0a0a0a" stroke-width="1.25" fill="none"/>
<path d="M208.5 174.3V258.25M208 257.7H336.1" stroke="#000" stroke-width="1.25" fill="none"/>
<path d="M205.1 257.7H208.5" stroke="#222" stroke-width="1"/>
<text x="202.3" y="260.95" font-size="8.6" text-anchor="end">0</text>
<path d="M205.1 230.95H208.5" stroke="#222" stroke-width="1"/>
<text x="202.3" y="234.2" font-size="8.6" text-anchor="end">10</text>
<path d="M205.1 204.2H208.5" stroke="#222" stroke-width="1"/>
<text x="202.3" y="207.45" font-size="8.6" text-anchor="end">20</text>
<path d="M205.1 177.45H208.5" stroke="#222" stroke-width="1"/>
<text x="202.3" y="180.7" font-size="8.6" text-anchor="end">30</text>
<path d="M214.4 257.7V260.7" stroke="#222" stroke-width="0.9"/>
<text transform="translate(215.6,266) rotate(-41.5) scale(0.92,1)" font-size="8.7" style="stroke-width:0.2px" text-anchor="end" dominant-baseline="central">0</text>
<path d="M227.25 257.7V260.7" stroke="#222" stroke-width="0.9"/>
<text transform="translate(228.45,266) rotate(-41.5) scale(0.92,1)" font-size="8.7" style="stroke-width:0.2px" text-anchor="end" dominant-baseline="central">1-3</text>
<path d="M240.1 257.7V260.7" stroke="#222" stroke-width="0.9"/>
<text transform="translate(241.3,266) rotate(-41.5) scale(0.92,1)" font-size="8.7" style="stroke-width:0.2px" text-anchor="end" dominant-baseline="central">4-6</text>
<path d="M252.95 257.7V260.7" stroke="#222" stroke-width="0.9"/>
<text transform="translate(254.15,266) rotate(-41.5) scale(0.92,1)" font-size="8.7" style="stroke-width:0.2px" text-anchor="end" dominant-baseline="central">7-9</text>
<path d="M265.8 257.7V260.7" stroke="#222" stroke-width="0.9"/>
<text transform="translate(267,266) rotate(-41.5) scale(0.92,1)" font-size="8.7" style="stroke-width:0.2px" text-anchor="end" dominant-baseline="central">10-12</text>
<path d="M278.65 257.7V260.7" stroke="#222" stroke-width="0.9"/>
<text transform="translate(279.85,266) rotate(-41.5) scale(0.92,1)" font-size="8.7" style="stroke-width:0.2px" text-anchor="end" dominant-baseline="central">13-15</text>
<path d="M291.5 257.7V260.7" stroke="#222" stroke-width="0.9"/>
<text transform="translate(292.7,266) rotate(-41.5) scale(0.92,1)" font-size="8.7" style="stroke-width:0.2px" text-anchor="end" dominant-baseline="central">16-18</text>
<path d="M304.35 257.7V260.7" stroke="#222" stroke-width="0.9"/>
<text transform="translate(305.55,266) rotate(-41.5) scale(0.92,1)" font-size="8.7" style="stroke-width:0.2px" text-anchor="end" dominant-baseline="central">19-21</text>
<path d="M317.2 257.7V260.7" stroke="#222" stroke-width="0.9"/>
<text transform="translate(318.4,266) rotate(-41.5) scale(0.92,1)" font-size="8.7" style="stroke-width:0.2px" text-anchor="end" dominant-baseline="central">22-24</text>
<path d="M330.05 257.7V260.7" stroke="#222" stroke-width="0.9"/>
<text transform="translate(331.25,266) rotate(-41.5) scale(0.92,1)" font-size="8.7" style="stroke-width:0.2px" text-anchor="end" dominant-baseline="central">&gt; 24</text>
<text transform="translate(188,218.1) rotate(-90) scale(0.765,1)" font-size="10.9" x="-52.96 -42.68 -39.38 -32.87 -29.49 -26.04 -22.27 -16.57 -10.37 -6.1 -2.33 3.73 10.15 16.21 22.55 31.9 37.96 44.47 47.89" y="0" style="stroke-width:0.42px">% of rearrangements</text>
<text transform="translate(272.4,295.5) scale(0.765,1)" font-size="10.9" x="-34.56 -26.46 -22.39 -16.05 -9.76 -4.03 -1.62 4.36 10.81 14.28 17.04 23.03 28.96" y="0" style="stroke-width:0.42px">N-nucleotides</text>
</g>
<g>
<text x="448.6" y="168.8" font-size="9.7" style="stroke-width:0.16px" text-anchor="middle" textLength="19" lengthAdjust="spacingAndGlyphs">TRB</text>
<path d="M384.55 257.7V240.84Q384.55 240.04 385.35 240.04H388.75Q389.55 240.04 389.55 240.84V257.7Z" fill="#000"/>
<path d="M387.05 240.04V237.24M385.25 237.54H388.85" stroke="#0a0a0a" stroke-width="1.25" fill="none"/>
<path d="M390 257.7V241.85Q390 241.25 390.6 241.25H394.4Q395 241.25 395 241.85V257.7Z" fill="#bfbfbf"/>
<path d="M397.35 257.7V215.97Q397.35 215.17 398.15 215.17H401.55Q402.35 215.17 402.35 215.97V257.7Z" fill="#000"/>
<path d="M399.85 215.17V213.03M398.05 213.33H401.65" stroke="#0a0a0a" stroke-width="1.25" fill="none"/>
<path d="M402.8 257.7V222.19Q402.8 221.59 403.4 221.59H407.2Q407.8 221.59 407.8 222.19V257.7Z" fill="#bfbfbf"/>
<path d="M410.15 257.7V184.94Q410.15 184.14 410.95 184.14H414.35Q415.15 184.14 415.15 184.94V257.7Z" fill="#000"/>
<path d="M412.65 184.14V182M410.85 182.3H414.45" stroke="#0a0a0a" stroke-width="1.25" fill="none"/>
<path d="M415.6 257.7V201.05Q415.6 200.45 416.2 200.45H420Q420.6 200.45 420.6 201.05V257.7Z" fill="#bfbfbf"/>
<path d="M422.95 257.7V195.5Q422.95 193.5 424.95 193.5H425.95Q427.95 193.5 427.95 195.5V257.7Z" fill="#000"/>
<path d="M425.45 193.5V192.7M423.65 193H427.25" stroke="#0a0a0a" stroke-width="1.25" fill="none"/>
<path d="M428.4 257.7V206.41Q428.4 205.81 429 205.81H432.8Q433.4 205.81 433.4 206.41V257.7Z" fill="#bfbfbf"/>
<path d="M435.75 257.7V221.45Q435.75 220.65 436.55 220.65H439.95Q440.75 220.65 440.75 221.45V257.7Z" fill="#000"/>
<path d="M438.25 220.65V218.65M436.45 218.95H440.05" stroke="#0a0a0a" stroke-width="1.25" fill="none"/>
<path d="M441.2 257.7V215.77Q441.2 215.17 441.8 215.17H445.6Q446.2 215.17 446.2 215.77V257.7Z" fill="#bfbfbf"/>
<path d="M448.55 257.7V241.11Q448.55 240.31 449.35 240.31H452.75Q453.55 240.31 453.55 241.11V257.7Z" fill="#000"/>
<path d="M451.05 240.31V238.17M449.25 238.47H452.85" stroke="#0a0a0a" stroke-width="1.25" fill="none"/>
<path d="M454 257.7V232.22Q454 231.62 454.6 231.62H458.4Q459 231.62 459 232.22V257.7Z" fill="#bfbfbf"/>
<path d="M461.35 257.7V251.94Q461.35 249.94 463.35 249.94H464.35Q466.35 249.94 466.35 251.94V257.7Z" fill="#000"/>
<path d="M463.85 249.94V249.14M462.05 249.44H465.65" stroke="#0a0a0a" stroke-width="1.25" fill="none"/>
<path d="M466.8 257.7V241.18Q466.8 240.58 467.4 240.58H471.2Q471.8 240.58 471.8 241.18V257.7Z" fill="#bfbfbf"/>
<path d="M474.15 257.7V255.69Q474.15 253.69 476.15 253.69H477.15Q479.15 253.69 479.15 255.69V257.7Z" fill="#000"/>
<path d="M476.65 253.69V252.88M474.85 253.19H478.45" stroke="#0a0a0a" stroke-width="1.25" fill="none"/>
<path d="M479.6 257.7V248.67Q479.6 248.07 480.2 248.07H484Q484.6 248.07 484.6 248.67V257.7Z" fill="#bfbfbf"/>
<path d="M486.95 257.7V257.3Q486.95 256.36 487.89 256.36H491.01Q491.95 256.36 491.95 257.3V257.7Z" fill="#000"/>
<path d="M489.45 256.36V255.96M487.65 256.26H491.25" stroke="#0a0a0a" stroke-width="1.25" fill="none"/>
<path d="M492.4 257.7V254.55Q492.4 253.95 493 253.95H496.8Q497.4 253.95 497.4 254.55V257.7Z" fill="#bfbfbf"/>
<path d="M499.75 257.7V257.3Q499.75 256.36 500.69 256.36H503.81Q504.75 256.36 504.75 257.3V257.7Z" fill="#000"/>
<path d="M502.25 256.36V255.96M500.45 256.26H504.05" stroke="#0a0a0a" stroke-width="1.25" fill="none"/>
<path d="M505.2 257.7V253.75Q505.2 253.15 505.8 253.15H509.6Q510.2 253.15 510.2 253.75V257.7Z" fill="#bfbfbf"/>
<path d="M383.1 174.3V258.25M382.6 257.7H513.1" stroke="#000" stroke-width="1.25" fill="none"/>
<path d="M379.7 257.7H383.1" stroke="#222" stroke-width="1"/>
<text x="376.9" y="260.95" font-size="8.6" text-anchor="end">0</text>
<path d="M379.7 230.95H383.1" stroke="#222" stroke-width="1"/>
<text x="376.9" y="234.2" font-size="8.6" text-anchor="end">10</text>
<path d="M379.7 204.2H383.1" stroke="#222" stroke-width="1"/>
<text x="376.9" y="207.45" font-size="8.6" text-anchor="end">20</text>
<path d="M379.7 177.45H383.1" stroke="#222" stroke-width="1"/>
<text x="376.9" y="180.7" font-size="8.6" text-anchor="end">30</text>
<path d="M389.9 257.7V260.7" stroke="#222" stroke-width="0.9"/>
<text transform="translate(391.1,266) rotate(-41.5) scale(0.92,1)" font-size="8.7" style="stroke-width:0.2px" text-anchor="end" dominant-baseline="central">0</text>
<path d="M402.7 257.7V260.7" stroke="#222" stroke-width="0.9"/>
<text transform="translate(403.9,266) rotate(-41.5) scale(0.92,1)" font-size="8.7" style="stroke-width:0.2px" text-anchor="end" dominant-baseline="central">1-3</text>
<path d="M415.5 257.7V260.7" stroke="#222" stroke-width="0.9"/>
<text transform="translate(416.7,266) rotate(-41.5) scale(0.92,1)" font-size="8.7" style="stroke-width:0.2px" text-anchor="end" dominant-baseline="central">4-6</text>
<path d="M428.3 257.7V260.7" stroke="#222" stroke-width="0.9"/>
<text transform="translate(429.5,266) rotate(-41.5) scale(0.92,1)" font-size="8.7" style="stroke-width:0.2px" text-anchor="end" dominant-baseline="central">7-9</text>
<path d="M441.1 257.7V260.7" stroke="#222" stroke-width="0.9"/>
<text transform="translate(442.3,266) rotate(-41.5) scale(0.92,1)" font-size="8.7" style="stroke-width:0.2px" text-anchor="end" dominant-baseline="central">10-12</text>
<path d="M453.9 257.7V260.7" stroke="#222" stroke-width="0.9"/>
<text transform="translate(455.1,266) rotate(-41.5) scale(0.92,1)" font-size="8.7" style="stroke-width:0.2px" text-anchor="end" dominant-baseline="central">13-15</text>
<path d="M466.7 257.7V260.7" stroke="#222" stroke-width="0.9"/>
<text transform="translate(467.9,266) rotate(-41.5) scale(0.92,1)" font-size="8.7" style="stroke-width:0.2px" text-anchor="end" dominant-baseline="central">16-18</text>
<path d="M479.5 257.7V260.7" stroke="#222" stroke-width="0.9"/>
<text transform="translate(480.7,266) rotate(-41.5) scale(0.92,1)" font-size="8.7" style="stroke-width:0.2px" text-anchor="end" dominant-baseline="central">19-21</text>
<path d="M492.3 257.7V260.7" stroke="#222" stroke-width="0.9"/>
<text transform="translate(493.5,266) rotate(-41.5) scale(0.92,1)" font-size="8.7" style="stroke-width:0.2px" text-anchor="end" dominant-baseline="central">22-24</text>
<path d="M505.1 257.7V260.7" stroke="#222" stroke-width="0.9"/>
<text transform="translate(506.3,266) rotate(-41.5) scale(0.92,1)" font-size="8.7" style="stroke-width:0.2px" text-anchor="end" dominant-baseline="central">&gt; 24</text>
<text transform="translate(362.6,218.1) rotate(-90) scale(0.765,1)" font-size="10.9" x="-52.96 -42.68 -39.38 -32.87 -29.49 -26.04 -22.27 -16.57 -10.37 -6.1 -2.33 3.73 10.15 16.21 22.55 31.9 37.96 44.47 47.89" y="0" style="stroke-width:0.42px">% of rearrangements</text>
<text transform="translate(446.9,295.5) scale(0.765,1)" font-size="10.9" x="-34.56 -26.46 -22.39 -16.05 -9.76 -4.03 -1.62 4.36 10.81 14.28 17.04 23.03 28.96" y="0" style="stroke-width:0.42px">N-nucleotides</text>
</g>
</g>
<path d="M0 0H520V305H0ZM1 1V303.85H518.95V1Z" fill="#000" fill-rule="evenodd"/>
</svg></body></html>
